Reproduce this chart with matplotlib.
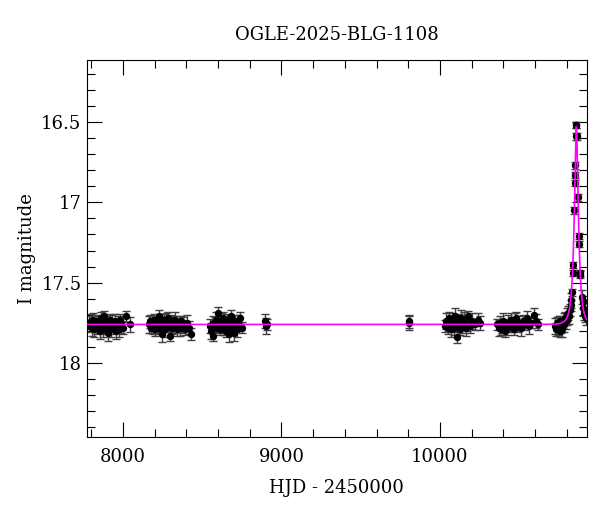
import numpy as np
import matplotlib
matplotlib.use("Agg")
import matplotlib.pyplot as plt
from matplotlib.ticker import MultipleLocator

plt.rcParams['font.family'] = ['DejaVu Serif']

# photometry, one season per block (HJD - 2450000, I mag)
t_s1 = [7786, 7792, 7798, 7803, 7809, 7814, 7820, 7826, 7831, 7837, 7843, 7848, 7854,
        7860, 7866, 7871, 7877, 7883, 7889, 7894, 7900, 7906, 7912, 7918, 7924, 7930,
        7936, 7942, 7948, 7955, 7962, 7968, 7975, 7982, 7990, 7998, 8020, 8044]
m_s1 = [17.75, 17.77, 17.74, 17.78, 17.76, 17.73, 17.79, 17.76, 17.75, 17.78, 17.74, 17.77, 17.80,
        17.72, 17.76, 17.79, 17.75, 17.71, 17.78, 17.77, 17.74, 17.81, 17.76, 17.73, 17.79, 17.75,
        17.78, 17.76, 17.74, 17.80, 17.77, 17.75, 17.79, 17.73, 17.76, 17.78, 17.71, 17.76]

t_s2 = [8162, 8168, 8175, 8182, 8188, 8195, 8201, 8208, 8214, 8221, 8227, 8234, 8240,
        8247, 8253, 8260, 8266, 8273, 8279, 8286, 8292, 8299, 8305, 8312, 8318, 8325,
        8331, 8338, 8344, 8351, 8357, 8364, 8372, 8380, 8390, 8402, 8415, 8432]
m_s2 = [17.76, 17.74, 17.78, 17.75, 17.77, 17.73, 17.79, 17.76, 17.74, 17.77, 17.71, 17.78, 17.75,
        17.82, 17.76, 17.73, 17.79, 17.74, 17.77, 17.72, 17.76, 17.83, 17.75, 17.78, 17.74, 17.77,
        17.73, 17.79, 17.76, 17.75, 17.78, 17.74, 17.77, 17.76, 17.79, 17.75, 17.78, 17.82]

t_s3 = [8552, 8558, 8565, 8571, 8578, 8584, 8591, 8597, 8604, 8610, 8617, 8623, 8630,
        8636, 8643, 8649, 8656, 8662, 8669, 8675, 8682, 8688, 8695, 8701, 8708, 8714,
        8721, 8728, 8740, 8752, 8895, 8902, 8908, 9803, 9808]
m_s3 = [17.77, 17.80, 17.75, 17.83, 17.76, 17.73, 17.78, 17.69, 17.75, 17.79, 17.74, 17.77, 17.72,
        17.78, 17.76, 17.80, 17.73, 17.77, 17.82, 17.75, 17.71, 17.78, 17.76, 17.81, 17.74, 17.77,
        17.79, 17.75, 17.72, 17.78, 17.74, 17.77, 17.76, 17.74, 17.75]

t_s6 = [10032, 10040, 10048, 10055, 10062, 10070, 10077, 10084, 10091, 10098, 10105, 10112, 10119,
        10126, 10133, 10140, 10147, 10155, 10162, 10170, 10180, 10192, 10205, 10220, 10238, 10250]
m_s6 = [17.77, 17.74, 17.78, 17.72, 17.76, 17.79, 17.73, 17.75, 17.78, 17.71, 17.84, 17.76, 17.74,
        17.79, 17.72, 17.77, 17.75, 17.73, 17.78, 17.76, 17.71, 17.77, 17.74, 17.76, 17.73, 17.75]

t_s7 = [10362, 10370, 10378, 10385, 10392, 10400, 10408, 10416, 10424, 10432, 10440, 10448, 10456,
        10465, 10474, 10482, 10490, 10500, 10512, 10525, 10538, 10550, 10562, 10578, 10592, 10605, 10616]
m_s7 = [17.76, 17.78, 17.75, 17.79, 17.77, 17.74, 17.80, 17.76, 17.78, 17.75, 17.77, 17.73, 17.76,
        17.79, 17.74, 17.72, 17.77, 17.75, 17.78, 17.74, 17.76, 17.72, 17.77, 17.75, 17.70, 17.74, 17.76]

t_s8 = [10726, 10732, 10738, 10744, 10750, 10755, 10760, 10766, 10771, 10776, 10781, 10786, 10790,
        10795, 10800, 10805, 10810, 10815, 10820, 10826, 10830, 10834, 10837, 10839, 10848, 10852,
        10853, 10854, 10858, 10860, 10862, 10864, 10872, 10877, 10879, 10885, 10886, 10896, 10900,
        10905, 10910, 10915, 10919]
m_s8 = [17.77, 17.79, 17.75, 17.78, 17.76, 17.80, 17.74, 17.77, 17.79, 17.75, 17.73, 17.76, 17.72,
        17.74, 17.70, 17.73, 17.69, 17.71, 17.67, 17.64, 17.61, 17.56, 17.44, 17.39, 17.05, 16.88,
        16.83, 16.77, 16.59, 16.52, 16.52, 16.59, 16.97, 17.21, 17.26, 17.44, 17.45, 17.59, 17.62,
        17.66, 17.69, 17.71, 17.72]

err_base = [0.04, 0.035, 0.045, 0.05, 0.035, 0.04, 0.045, 0.035, 0.05, 0.04, 0.035, 0.045, 0.05]

# point-lens model parameters
t0 = 10861.0
tE = 26.0
u0 = 0.335
I_base = 17.76

hjd = np.array(t_s1 + t_s2 + t_s3 + t_s6 + t_s7 + t_s8, dtype=float)
mag = np.array(m_s1 + m_s2 + m_s3 + m_s6 + m_s7 + m_s8)
err = np.resize(err_base, len(hjd))
err[np.abs(mag - I_base) > 0.2] = 0.02

tt = np.linspace(7773, 10927, 6000)
u = np.sqrt(u0**2 + ((tt - t0) / tE)**2)
A = (u**2 + 2) / (u * np.sqrt(u**2 + 4))
model = I_base - 2.5 * np.log10(A)

fig = plt.figure(figsize=(6, 5.12), dpi=100)
ax = fig.add_axes([0.145, 0.1465, 0.833, 0.7365])

ax.errorbar(hjd, mag, yerr=err, fmt='o', color='k', ecolor='0.25', ms=4.3,
            capsize=3, elinewidth=1.0, capthick=1.0, zorder=2)
ax.plot(tt, model, color='#ff00ff', lw=1.2, zorder=3)

ax.set_xlim(7773, 10927)
ax.set_ylim(18.46, 16.114)
ax.xaxis.set_major_locator(MultipleLocator(1000))
ax.xaxis.set_minor_locator(MultipleLocator(200))
ax.yaxis.set_major_locator(MultipleLocator(0.5))
ax.yaxis.set_minor_locator(MultipleLocator(0.1))
ax.yaxis.set_major_formatter(plt.FuncFormatter(lambda v, p: f"{v:g}"))
ax.tick_params(which='both', direction='in', top=True, right=True, labelsize=13)
ax.tick_params(which='major', length=11, width=0.8)
ax.tick_params(which='minor', length=6, width=0.8)
ax.tick_params(axis='x', which='major', pad=8)
ax.tick_params(axis='y', which='major', pad=4)

ax.set_title("OGLE-2025-BLG-1108", fontsize=13, pad=14)
ax.set_xlabel("HJD - 2450000", fontsize=13, labelpad=9)
ax.set_ylabel("I magnitude", fontsize=13, labelpad=4)

fig.savefig("out.png", dpi=100)
